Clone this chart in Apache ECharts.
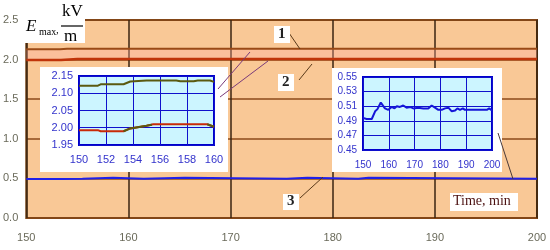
<!DOCTYPE html>
<html><head><meta charset="utf-8">
<script src="https://cdn.jsdelivr.net/npm/echarts@6/dist/echarts.min.js"></script>
<style>html,body{margin:0;padding:0;background:#fff}#c{width:550px;height:250px}</style>
</head><body><div id="c"></div>
<script>
// ---- main chart data: [time (min), Emax (kV/m)] ----
const mainXTicks = [150, 160, 170, 180, 190, 200];
const mainYTicks = [0.0, 0.5, 1.0, 1.5, 2.0, 2.5];
const line1 = [[150,2.13],[153.3,2.13],[154,2.137],[200,2.137]];
const line2 = [[150,1.995],[153.4,1.995],[155,2.008],[200,2.008]];
const line3 = [[150,0.493],[153.4,0.493],[153.5,0.497],[155.5,0.497],[155.6,0.507],[158.5,0.507],[158.6,0.497],
  [161.5,0.497],[161.6,0.507],[165.5,0.507],[165.6,0.497],[175.5,0.497],[175.6,0.507],[177.5,0.507],[177.6,0.497],
  [182.5,0.497],[182.6,0.507],[183.5,0.507],[183.6,0.497],[200,0.497]];

// ---- inset 1 (150-160 min, lines 1 and 2) ----
const inset1Top = [[150,2.122],[151.4,2.122],[151.6,2.126],[153.3,2.126],[153.8,2.134],[155,2.137],[157.2,2.137],
  [157.5,2.135],[158.5,2.135],[158.8,2.137],[159.7,2.137],[160,2.133]];
const inset1Bottom = [[150,1.993],[151.4,1.993],[151.6,1.99],[153.3,1.99],[153.8,1.998],[155,2.006],[155.5,2.01],
  [159.5,2.01],[160,2.003]];
const inset1BottomOlive = [[153.3,1.99],[153.8,1.998],[155,2.006],[155.4,2.009],['-','-'],[159.5,2.01],[160,2.003]];

// ---- inset 2 (150-200 min, line 3) ----
const inset2Line = [[150,0.494],[151.4,0.4925],[153.4,0.4925],[154.7,0.503],[155.6,0.506],[156.9,0.515],[157.6,0.514],
  [158.5,0.507],[159.8,0.505],[161.1,0.509],[162.2,0.507],[163.1,0.510],[164.3,0.509],[165.6,0.511],[166.9,0.508],
  [168.2,0.509],[169.5,0.507],[171.4,0.508],[173.4,0.507],[175.3,0.507],[176.6,0.511],[177.9,0.508],[179.2,0.505],
  [180.5,0.505],[181.8,0.507],[183.1,0.508],[184.4,0.503],[185.7,0.504],[186.6,0.507],[187.6,0.505],[188.7,0.507],
  [189.5,0.505],[192.8,0.505],[198,0.505],[198.9,0.507],[200,0.504]];

const chart = echarts.init(document.getElementById('c'), null, {renderer:'canvas'});
const serif = '"Liberation Serif", "Times New Roman", serif';
const sans = '"Liberation Sans", Arial, sans-serif';
const insetLabel = {color:'#3333CC', fontFamily: sans, fontSize: 10};

chart.setOption({
  animation: false,
  backgroundColor: '#ffffff',
  grid: [
    {left:25, top:20, width:512, height:198, show:true, backgroundColor:'#F9C896', borderColor:'#6E3C10', borderWidth:2, z:0},
    {left:79, top:76, width:135, height:69, show:true, backgroundColor:'#CCF5FF', borderColor:'#0000CC', borderWidth:2, z:11},
    {left:363, top:77, width:129, height:73, show:true, backgroundColor:'#CCF5FF', borderColor:'#0000CC', borderWidth:2, z:11}
  ],
  xAxis: [
    {gridIndex:0, type:'value', min:mainXTicks[0], max:mainXTicks[mainXTicks.length-1], interval:10,
     axisLine:{show:false}, axisTick:{show:false},
     axisLabel:{color:'#6A6A5A', fontFamily: sans, fontSize:11, margin:14},
     splitLine:{show:true, lineStyle:{color:'#3A2410', width:1.5}}},
    {gridIndex:1, type:'value', min:150, max:160, interval:2, z:12,
     axisLine:{show:false}, axisTick:{show:false},
     axisLabel:Object.assign({margin:9}, insetLabel, {fontSize:11}),
     splitLine:{show:true, lineStyle:{color:'#1010CC', width:1}}},
    {gridIndex:2, type:'value', min:150, max:200, interval:10, z:12,
     axisLine:{show:false}, axisTick:{show:false},
     axisLabel:Object.assign({margin:10}, insetLabel),
     splitLine:{show:true, lineStyle:{color:'#1010CC', width:1}}}
  ],
  yAxis: [
    {gridIndex:0, type:'value', min:mainYTicks[0], max:mainYTicks[mainYTicks.length-1], interval:0.5,
     axisLine:{show:false}, axisTick:{show:false},
     axisLabel:{color:'#6A6A5A', fontFamily: sans, fontSize:11, margin:8, formatter:v=>v.toFixed(1)},
     splitLine:{show:true, lineStyle:{color:'#8B4A1A', width:1.5}}},
    {gridIndex:1, type:'value', min:1.95, max:2.15, interval:0.05, z:12,
     axisLine:{show:false}, axisTick:{show:false},
     axisLabel:Object.assign({margin:6, formatter:v=>v.toFixed(2)}, insetLabel, {fontSize:11}),
     splitLine:{show:true, lineStyle:{color:'#1010CC', width:1}}},
    {gridIndex:2, type:'value', min:0.45, max:0.55, interval:0.02, z:12,
     axisLine:{show:false}, axisTick:{show:false},
     axisLabel:Object.assign({margin:6, formatter:v=>v.toFixed(2)}, insetLabel),
     splitLine:{show:true, lineStyle:{color:'#1010CC', width:1}}}
  ],
  series: [
    {type:'line', xAxisIndex:0, yAxisIndex:0, data:line2, showSymbol:false, z:2,
     lineStyle:{color:'#C0340A', width:2.5},
     markArea:{silent:true, itemStyle:{color:'rgba(255,175,165,0.35)'}, data:[[{yAxis:2.0},{yAxis:2.137}]]}},
    {type:'line', xAxisIndex:0, yAxisIndex:0, data:line1, showSymbol:false, z:2,
     lineStyle:{color:'#9A4A16', width:2}},
    {type:'line', xAxisIndex:0, yAxisIndex:0, data:line3, showSymbol:false, z:2,
     lineStyle:{color:'#2020E8', width:2}},
    {type:'line', xAxisIndex:1, yAxisIndex:1, data:inset1Top, showSymbol:false, z:13,
     lineStyle:{color:'#5A5A10', width:2}},
    {type:'line', xAxisIndex:1, yAxisIndex:1, data:inset1Bottom, showSymbol:false, z:13,
     lineStyle:{color:'#C82A08', width:2}},
    {type:'line', xAxisIndex:1, yAxisIndex:1, data:inset1BottomOlive, showSymbol:false, z:14, connectNulls:false,
     lineStyle:{color:'#5A5A10', width:2}},
    {type:'line', xAxisIndex:2, yAxisIndex:2, data:inset2Line, showSymbol:false, z:13,
     lineStyle:{color:'#1515D8', width:2}}
  ],
  graphic: [
    // title box
    {type:'rect', z:20, shape:{x:24, y:0, width:61, height:43}, style:{fill:'#ffffff'}},
    {type:'text', z:21, left:26, top:18, style:{text:'E', font:'italic 17px '+serif, fill:'#000'}},
    {type:'text', z:21, left:39, top:27, style:{text:'max', font:'10px '+serif, fill:'#000'}},
    {type:'text', z:21, left:56, top:25, style:{text:',', font:'11px '+serif, fill:'#000'}},
    {type:'text', z:21, left:62, top:3, style:{text:'kV', font:'17px '+serif, fill:'#000'}},
    {type:'line', z:21, shape:{x1:61, y1:26, x2:83, y2:26}, style:{stroke:'#000', lineWidth:1.2}},
    {type:'text', z:21, left:64, top:28, style:{text:'m', font:'17px '+serif, fill:'#000'}},
    // inset white boxes
    {type:'rect', z:10, shape:{x:40, y:67, width:188, height:105}, style:{fill:'#ffffff'}},
    {type:'rect', z:10, shape:{x:332, y:68, width:170, height:104}, style:{fill:'#ffffff'}},
    // leader lines
    {type:'line', z:20, shape:{x1:218, y1:89, x2:250, y2:52}, style:{stroke:'#7A3A7A', lineWidth:1}},
    {type:'line', z:20, shape:{x1:220, y1:97, x2:268, y2:61}, style:{stroke:'#7A3A7A', lineWidth:1}},
    {type:'line', z:20, shape:{x1:498, y1:133, x2:513, y2:179}, style:{stroke:'#4A3A3A', lineWidth:1}},
    {type:'line', z:20, shape:{x1:289, y1:33, x2:300, y2:49}, style:{stroke:'#5A3A1A', lineWidth:1}},
    {type:'line', z:20, shape:{x1:299, y1:80, x2:312, y2:64}, style:{stroke:'#5A3A1A', lineWidth:1}},
    {type:'line', z:20, shape:{x1:300, y1:198, x2:323, y2:177}, style:{stroke:'#5A3A1A', lineWidth:1}},
    // curve numbers
    {type:'rect', z:20, shape:{x:274, y:26, width:16, height:17}, style:{fill:'#ffffff'}},
    {type:'text', z:21, left:278, top:27, style:{text:'1', font:'bold 15px '+serif, fill:'#222'}},
    {type:'rect', z:20, shape:{x:278, y:74, width:16, height:17}, style:{fill:'#ffffff'}},
    {type:'text', z:21, left:282, top:75, style:{text:'2', font:'bold 15px '+serif, fill:'#222'}},
    {type:'rect', z:20, shape:{x:283, y:194, width:16, height:16}, style:{fill:'#ffffff'}},
    {type:'text', z:21, left:287, top:194, style:{text:'3', font:'bold 15px '+serif, fill:'#222'}},
    // axis caption
    {type:'rect', z:20, shape:{x:450, y:193, width:68, height:18}, style:{fill:'#ffffff'}},
    {type:'text', z:21, left:453, top:194, style:{text:'Time, min', font:'14px '+serif, fill:'#4A1010'}}
  ]
});
</script></body></html>
